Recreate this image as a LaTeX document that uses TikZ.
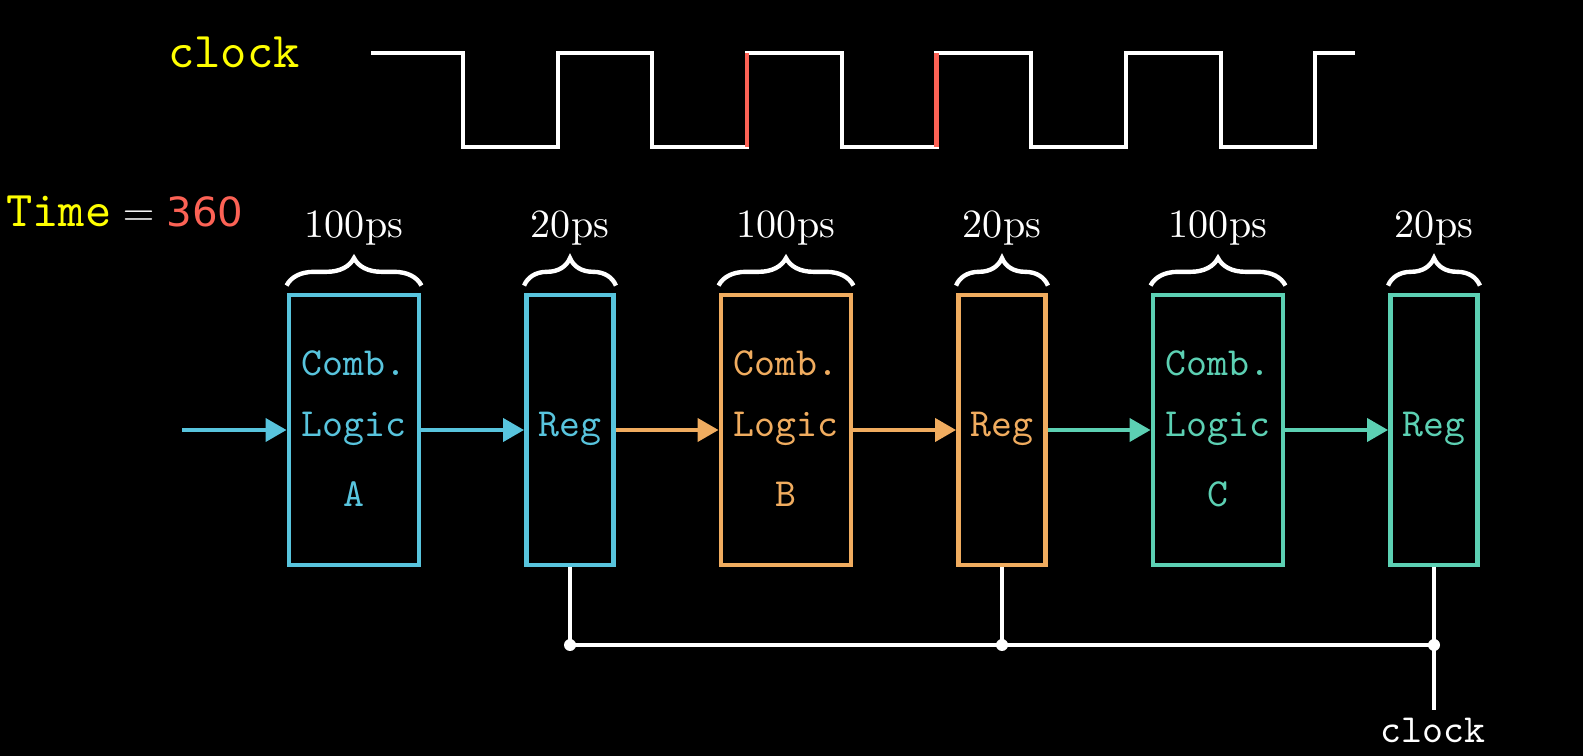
\documentclass[tikz,border=0pt]{standalone}
\usepackage{fontspec}
\setmainfont{lmroman10-regular.otf}
\setmonofont{lmmono10-regular.otf}
\setsansfont{lmsans10-regular.otf}
\newfontfamily\numfont{DejaVu Sans}
\usetikzlibrary{arrows.meta,decorations.pathreplacing}
\definecolor{mblue}{HTML}{58C4DD}
\definecolor{mgold}{HTML}{F0AC5F}
\definecolor{mteal}{HTML}{5CD0B3}
\definecolor{mred}{HTML}{FC6255}
\definecolor{myellow}{HTML}{FFFF00}
\begin{document}
\begin{tikzpicture}[x=0.02cm,y=-0.02cm,
  wave/.style={white,line width=2.3pt,line join=miter},
  redge/.style={mred,line width=2.5pt},
  combbox/.style={draw,line width=2.8pt,minimum width=2.6cm,minimum height=5.4cm,inner sep=0pt},
  regbox/.style={draw,line width=2.8pt,minimum width=1.74cm,minimum height=5.4cm,inner sep=0pt},
  boxtxt/.style={anchor=base,inner sep=0pt,font=\fontsize{22.7}{27}\selectfont\ttfamily},
  bigtxt/.style={inner sep=0pt,font=\fontsize{28.5}{33}\selectfont\ttfamily},
  bracetxt/.style={anchor=base,inner sep=0pt,white,font=\fontsize{22.8}{27}\selectfont\rmfamily},
  bracestyle/.style={white,line width=2.5pt,decorate,decoration={brace,amplitude=0.55cm}},
  arr/.style={line width=2.3pt,-{Triangle[length=0.42cm,width=0.46cm]}},
  wire/.style={white,line width=2.6pt},
  dotstyle/.style={white}
]
\fill[black] (0,0) rectangle (1583,756);
\useasboundingbox (0,0) rectangle (1583,756);

% clock waveform
\draw[wave] (371,53)--(463,53)--(463,147)--(557.7,147)--(557.7,53)--(652.4,53)--(652.4,147)--(747.1,147)--(747.1,53)--(841.8,53)--(841.8,147)--(936.5,147)--(936.5,53)--(1031.2,53)--(1031.2,147)--(1125.9,147)--(1125.9,53)--(1220.6,53)--(1220.6,147)--(1315.3,147)--(1315.3,53)--(1355,53);
\draw[redge] (747.1,147)--(747.1,53);
\draw[redge] (936.5,147)--(936.5,53);

\node[bigtxt,anchor=base,myellow] (clktop) at (234,68) {clock};
\node[bigtxt,anchor=base west] (time) at (6,227) {\textcolor{myellow}{Time}\hspace{6.5pt}\textcolor{white}{$=$}\hspace{7pt}\textcolor{mred}{\fontsize{22.9}{27}\selectfont\numfont 360}};

% boxes
\node[combbox,mblue] (A) at (354,430) {};
\node[regbox,mblue] (R1) at (570,430) {};
\node[combbox,mgold] (B) at (786,430) {};
\node[regbox,mgold] (R2) at (1002,430) {};
\node[combbox,mteal] (C) at (1218,430) {};
\node[regbox,mteal] (R3) at (1434,430) {};

% box texts
\node[boxtxt,mblue] (A1) at (354,376) {Comb.};
\node[boxtxt,mblue] (A2) at (354,437) {Logic};
\node[boxtxt,mblue] (A3) at (354,507) {A};
\node[boxtxt,mgold] (B1) at (786,376) {Comb.};
\node[boxtxt,mgold] (B2) at (786,437) {Logic};
\node[boxtxt,mgold] (B3) at (786,507) {B};
\node[boxtxt,mteal] (C1) at (1218,376) {Comb.};
\node[boxtxt,mteal] (C2) at (1218,437) {Logic};
\node[boxtxt,mteal] (C3) at (1218,507) {C};
\node[boxtxt,mblue] (R1t) at (570,437) {Reg};
\node[boxtxt,mgold] (R2t) at (1002,437) {Reg};
\node[boxtxt,mteal] (R3t) at (1434,437) {Reg};

% braces
\foreach \b in {A,R1,B,R2,C,R3}{
  \draw[bracestyle] ([yshift=0.14cm]\b.north west) -- ([yshift=0.14cm]\b.north east);
}
\node[bracetxt] (dA) at (354,238) {100ps};
\node[bracetxt] (dR1) at (570,238) {20ps};
\node[bracetxt] (dB) at (786,238) {100ps};
\node[bracetxt] (dR2) at (1002,238) {20ps};
\node[bracetxt] (dC) at (1218,238) {100ps};
\node[bracetxt] (dR3) at (1434,238) {20ps};

% arrows
\coordinate (in) at (182,430);
\draw[arr,mblue] (in) -- (A.west);
\draw[arr,mblue] (A.east) -- (R1.west);
\draw[arr,mgold] (R1.east) -- (B.west);
\draw[arr,mgold] (B.east) -- (R2.west);
\draw[arr,mteal] (R2.east) -- (C.west);
\draw[arr,mteal] (C.east) -- (R3.west);

% clock wiring
\coordinate (j1) at (570,645);
\coordinate (j2) at (1002,645);
\coordinate (j3) at (1434,645);
\coordinate (clkend) at (1434,710);
\draw[wire] (R1.south) -- (j1);
\draw[wire] (R2.south) -- (j2);
\draw[wire] (R3.south) -- (clkend);
\draw[wire] (j1) -- (j3);
\fill[dotstyle] (j1) circle[radius=0.12cm];
\fill[dotstyle] (j2) circle[radius=0.12cm];
\fill[dotstyle] (j3) circle[radius=0.12cm];
\node[boxtxt,white] (clkbot) at (1433,743) {clock};
\end{tikzpicture}
\end{document}
